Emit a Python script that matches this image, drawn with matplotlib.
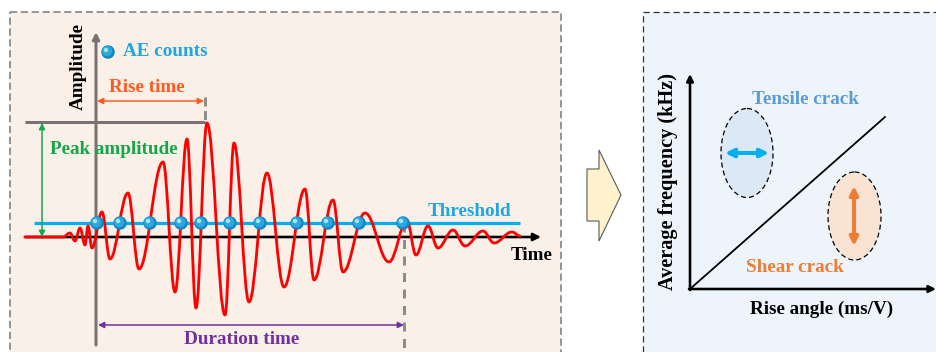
import matplotlib
matplotlib.use("Agg")
import matplotlib.pyplot as plt
from matplotlib.path import Path
from matplotlib.patches import PathPatch, Rectangle, Ellipse, Polygon

# ---------------- data (pixel-space schematic values) ----------------
# waveform extrema (x, y) in image pixels (y grows downward)
wave_x = [25, 63, 70, 75, 80, 85, 88, 92, 102, 110, 128, 139, 163, 175, 187, 196, 207, 225,
          234, 249, 267, 284, 305, 314, 333, 343, 365, 389, 407, 416, 428, 438, 453, 465,
          483, 494, 512, 520]
wave_y = [237, 237, 233, 241, 228, 245, 226, 248, 212, 259, 193, 269, 162, 292, 139, 308, 123, 315,
          143, 302, 173, 287, 189, 280, 200, 272, 213, 262, 221, 255, 226, 248, 230, 246,
          231, 243, 232, 236]
# AE count markers (threshold crossings)
count_x = [97, 120, 150, 181, 201, 230, 260, 297, 328, 359, 403]
threshold_y = 223
baseline_y = 237
peak_y = 122
rise_end_x = 205
duration_end_x = 404

left_labels = ["Amplitude", "AE counts", "Rise time", "Peak amplitude", "Threshold",
               "Time", "Duration time"]
right_labels = ["Average frequency (kHz)", "Rise angle (ms/V)", "Tensile crack", "Shear crack"]

W, H = 936, 352
fig = plt.figure(figsize=(W / 100, H / 100), dpi=100)
ax = fig.add_axes([0, 0, 1, 1])
ax.set_xlim(0, W)
ax.set_ylim(H, 0)
ax.axis("off")

FONT = "Liberation Serif"
FS = 13.8


def px(v):
    return v * 0.72


def arrow(x0, y0, x1, y1, color, lw, style="<|-|>", ms=10, z=5):
    ax.annotate("", xy=(x1, y1), xytext=(x0, y0),
                arrowprops=dict(arrowstyle=style, color=color, lw=lw, shrinkA=0, shrinkB=0,
                                mutation_scale=ms),
                zorder=z)


# ---------------- panels ----------------
ax.add_patch(Rectangle((10, 12), 551, 360, facecolor="#FBF0E8", edgecolor="#8C8C8C",
                       lw=1.3, linestyle=(0, (4, 2)), zorder=0))
ax.add_patch(Rectangle((643, 12), 320, 360, facecolor="#EEF4FB", edgecolor="#333333",
                       lw=0.9, linestyle=(0, (5, 3)), zorder=0))

# ---------------- left panel ----------------
gray = "#787272"
# vertical amplitude axis
arrow(96, 345, 96, 32, gray, px(3), style="-|>", ms=10, z=2)
# peak amplitude horizontal line
ax.plot([25, rise_end_x], [peak_y, peak_y], color=gray, lw=px(3), zorder=2,
        solid_capstyle="butt")
# rise time dashed end
ax.plot([rise_end_x, rise_end_x], [97, peak_y], color="#8C8C8C", lw=px(3),
        linestyle=(0, (3, 1.5)), zorder=2)
# duration dashed end
ax.plot([duration_end_x, duration_end_x], [threshold_y, 352], color="#8C8C8C", lw=px(3),
        linestyle=(0, (3, 2.5)), zorder=2)

# time axis
arrow(25, baseline_y, 541, baseline_y, "black", px(2.6), style="-|>", ms=11, z=3)
# threshold
ax.plot([34, 520], [threshold_y, threshold_y], color="#00B0F0", lw=px(3.2), zorder=3,
        solid_capstyle="butt")

# waveform with Bezier segments between extrema
verts = [(wave_x[0], wave_y[0]), (wave_x[1], wave_y[1])]
codes = [Path.MOVETO, Path.LINETO]
for i in range(1, len(wave_x) - 1):
    x0, y0 = wave_x[i], wave_y[i]
    x1, y1 = wave_x[i + 1], wave_y[i + 1]
    d = (x1 - x0) * 0.38
    verts += [(x0 + d, y0), (x1 - d, y1), (x1, y1)]
    codes += [Path.CURVE4, Path.CURVE4, Path.CURVE4]
ax.add_patch(PathPatch(Path(verts, codes), facecolor="none", edgecolor="#FF0000",
                       lw=px(2.8), zorder=4, capstyle="round", joinstyle="round"))


def balls(xs, ys, z=6):
    ax.scatter(xs, ys, s=95, color="#1786C0", edgecolors="none", zorder=z)
    ax.scatter([x - 0.8 for x in xs], [y - 0.8 for y in ys], s=55, color="#29A9E0",
               edgecolors="none", zorder=z + 0.1)
    ax.scatter([x - 2 for x in xs], [y - 2 for y in ys], s=10, color="#A9E4FA",
               edgecolors="none", zorder=z + 0.2)


balls(count_x, [threshold_y] * len(count_x))
balls([108], [52])

# arrows
arrow(97, 101, 204, 101, "#FF5A1F", px(1.5), ms=9)
arrow(42, 237, 42, 123, "#12A84A", px(1.5), ms=9)
arrow(98, 325, 404, 325, "#7030A0", px(1.5), ms=9)

# texts
ax.text(78, 67, left_labels[0], rotation=90, ha="center", va="center", fontsize=FS,
        fontweight="bold", family=FONT, color="black")
ax.text(123, 52, left_labels[1], ha="left", va="center", fontsize=FS, fontweight="bold",
        family=FONT, color="#1CA7E2")
ax.text(147, 87, left_labels[2], ha="center", va="center", fontsize=FS, fontweight="bold",
        family=FONT, color="#FF5A1F")
ax.text(50, 150, left_labels[3], ha="left", va="center", fontsize=FS, fontweight="bold",
        family=FONT, color="#12A84A")
ax.text(469, 211, left_labels[4], ha="center", va="center", fontsize=FS, fontweight="bold",
        family=FONT, color="#1CA7E2")
ax.text(532, 255, left_labels[5], ha="center", va="center", fontsize=FS, fontweight="bold",
        family=FONT, color="black")
ax.text(242, 340, left_labels[6], ha="center", va="center", fontsize=FS, fontweight="bold",
        family=FONT, color="#7030A0")

# ---------------- block arrow ----------------
ax.add_patch(Polygon([(587, 169), (599, 169), (599, 150), (621, 195), (599, 241), (599, 221),
                      (587, 221)], closed=True, facecolor="#FFF2CC", edgecolor="#595959",
                     lw=0.8, zorder=2))

# ---------------- right panel ----------------
ox, oy = 690, 289
arrow(ox, oy + 1, ox, 74, "black", px(2.6), style="-|>", ms=10, z=3)
arrow(ox - 1, oy, 936, oy, "black", px(2.6), style="-|>", ms=10, z=3)
ax.plot([ox, 885], [oy, 117], color="black", lw=px(1.8), zorder=3)

ax.add_patch(Ellipse((747, 153), 52, 89, facecolor="#DCE8F5", edgecolor="black", lw=0.9,
                     linestyle=(0, (4, 2.5)), zorder=2))
ax.add_patch(Ellipse((854.5, 216), 53, 88, facecolor="#FBE3D4", edgecolor="black", lw=0.9,
                     linestyle=(0, (4, 2.5)), zorder=2))
arrow(725, 153, 769, 153, "#00B0F0", px(4), ms=12)
arrow(854, 246, 854, 186, "#ED7D31", px(4), ms=12)

ax.text(668, 182, right_labels[0], rotation=90, ha="center", va="center", fontsize=FS + 0.8,
        fontweight="bold", family=FONT, color="black")
ax.text(822, 309, right_labels[1], ha="center", va="center", fontsize=FS, fontweight="bold",
        family=FONT, color="black")
ax.text(805, 99, right_labels[2], ha="center", va="center", fontsize=FS, fontweight="bold",
        family=FONT, color="#5B9BD5")
ax.text(795, 268, right_labels[3], ha="center", va="center", fontsize=FS, fontweight="bold",
        family=FONT, color="#ED7D31")

fig.savefig("out.png", dpi=100, facecolor="white")
